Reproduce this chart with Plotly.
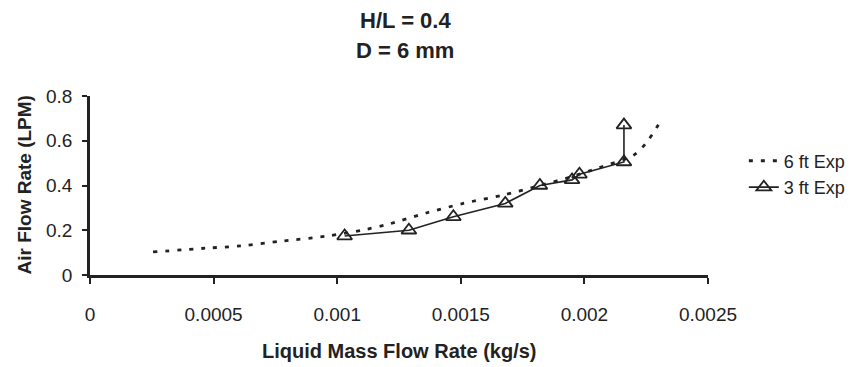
import plotly.graph_objects as go

# 6 ft Exp (dotted curve)
x6 = [0.000255, 0.00047, 0.00061, 0.00078, 0.00096, 0.0011, 0.0012, 0.00136, 0.00151, 0.00167, 0.00182, 0.00195, 0.00206, 0.0022, 0.00225, 0.00231]
y6 = [0.103, 0.12, 0.13, 0.152, 0.174, 0.20, 0.225, 0.277, 0.32, 0.357, 0.40, 0.44, 0.48, 0.536, 0.59, 0.69]

# 3 ft Exp (solid with triangles)
x3 = [0.00103, 0.00129, 0.00147, 0.00168, 0.00182, 0.00195, 0.00198, 0.00216, 0.00216]
y3 = [0.174, 0.20, 0.26, 0.32, 0.40, 0.425, 0.45, 0.505, 0.67]

x_ticks = [0, 0.0005, 0.001, 0.0015, 0.002, 0.0025]
x_tick_labels = ["0", "0.0005", "0.001", "0.0015", "0.002", "0.0025"]
y_ticks = [0, 0.2, 0.4, 0.6, 0.8]
y_tick_labels = ["0", "0.2", "0.4", "0.6", "0.8"]

FONT = "Liberation Sans, Arial, sans-serif"
INK = "#222"

fig = go.Figure()
fig.add_trace(go.Scatter(
    x=x6, y=y6, mode="lines", name="6 ft Exp",
    line=dict(color=INK, width=2.8, dash="4px,8px", shape="spline", smoothing=0.8),
))
fig.add_trace(go.Scatter(
    x=x3, y=y3, mode="lines+markers", name="3 ft Exp",
    line=dict(color=INK, width=1.6),
    marker=dict(symbol="triangle-up-open", size=13, color=INK, line=dict(width=1.8, color=INK)),
))

fig.update_layout(
    width=856, height=367,
    margin=dict(l=90, r=148, t=96, b=92, autoexpand=False),
    paper_bgcolor="white", plot_bgcolor="white",
    font=dict(family=FONT, size=18, color=INK),
    showlegend=True,
    legend=dict(x=1.058, y=0.74, xanchor="left", yanchor="top",
                font=dict(family=FONT, size=18, color=INK),
                bgcolor="rgba(0,0,0,0)", tracegroupgap=0),
    annotations=[
        dict(text="<b>H/L = 0.4</b>", xref="paper", yref="paper", x=0.51, y=1.0, yshift=76,
             showarrow=False, font=dict(family=FONT, size=22, color=INK), yanchor="middle"),
        dict(text="<b>D = 6 mm</b>", xref="paper", yref="paper", x=0.51, y=1.0, yshift=46,
             showarrow=False, font=dict(family=FONT, size=22, color=INK), yanchor="middle"),
        dict(text="<b>Liquid Mass Flow Rate (kg/s)</b>", xref="paper", yref="paper", x=0.5, y=0, yshift=-76,
             showarrow=False, font=dict(family=FONT, size=20, color=INK), yanchor="middle"),
        dict(text="<b>Air Flow Rate (LPM)</b>", xref="paper", yref="paper", x=0, xshift=-66, y=0.5,
             textangle=-90, showarrow=False, font=dict(family=FONT, size=19, color=INK),
             xanchor="center", yanchor="middle"),
    ],
)
fig.update_xaxes(
    range=[0, 0.0025], tickvals=x_ticks, ticktext=x_tick_labels,
    showgrid=False, zeroline=False, showline=True, linecolor=INK, linewidth=2.5,
    ticks="outside", ticklen=6, tickcolor=INK, tickwidth=1.5, ticklabelstandoff=14,
    tickfont=dict(family=FONT, size=19, color=INK),
)
fig.update_yaxes(
    range=[0, 0.8], tickvals=y_ticks, ticktext=y_tick_labels,
    showgrid=False, zeroline=False, showline=True, linecolor=INK, linewidth=2.5,
    ticks="outside", ticklen=5, tickcolor=INK, tickwidth=1.5, ticklabelstandoff=6,
    tickfont=dict(family=FONT, size=19, color=INK),
)

fig.write_html("out.html")
